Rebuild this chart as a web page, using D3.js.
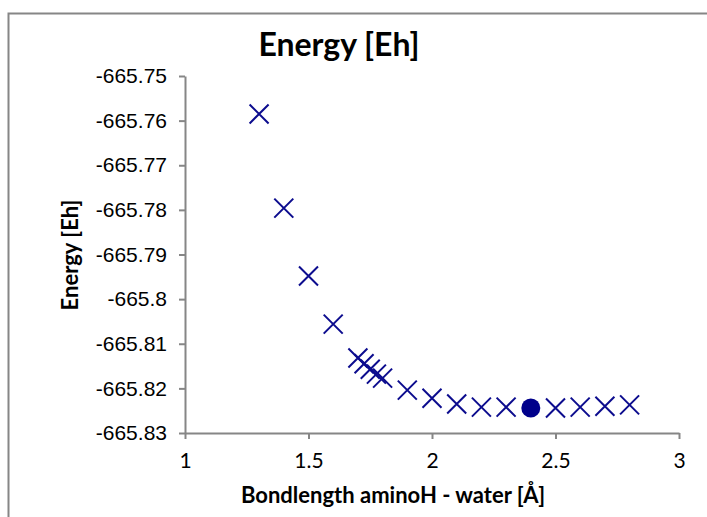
<!DOCTYPE html>
<html><head><meta charset="utf-8">
<script src="https://cdn.jsdelivr.net/npm/d3@7"></script>
<style>body{margin:0;background:#fff}svg{display:block}</style>
</head><body>
<script>
// Data
const bondLength = [1.3, 1.4, 1.5, 1.6, 1.7, 1.725, 1.75, 1.775, 1.8, 1.9, 2.0, 2.1, 2.2, 2.3, 2.5, 2.6, 2.7, 2.8];
const energy = [-665.7585, -665.7796, -665.7948, -665.8056, -665.8132, -665.8145, -665.8157, -665.8168, -665.8177, -665.8204, -665.8222, -665.8235, -665.8242, -665.8242, -665.8244, -665.8242, -665.8240, -665.8237];
const minimumX = [2.4];
const minimumY = [-665.8244];
const xTicks = [1, 1.5, 2, 2.5, 3];
const yTicks = [-665.75, -665.76, -665.77, -665.78, -665.79, -665.80, -665.81, -665.82, -665.83];
const title = "Energy [Eh]";
const xTitle = "Bondlength aminoH - water [Å]";
const yTitle = "Energy [Eh]";

const W = 707, H = 517;
const L = 185, R = 679, T = 76, B = 433;
const axisColor = "#868686", markColor = "#0c0c8e";
const svg = d3.select("body").append("svg").attr("width", W).attr("height", H);

svg.append("rect").attr("x", 8.5).attr("y", 13.5).attr("width", 720).attr("height", 540)
  .attr("fill", "none").attr("stroke", axisColor).attr("stroke-width", 2);

const x = d3.scaleLinear().domain([1, 3]).range([L, R]);
const y = d3.scaleLinear().domain([-665.83, -665.75]).range([B, T]);

const xAxis = svg.append("g").attr("transform", `translate(0,${B})`)
  .call(d3.axisBottom(x).tickValues(xTicks).tickSize(6).tickSizeOuter(0).tickPadding(14)
    .tickFormat(d => String(d)));
xAxis.selectAll("path,line").attr("stroke", axisColor).attr("stroke-width", 2);
xAxis.selectAll("text").attr("font-family", "Lato, sans-serif").attr("font-size", 21).attr("fill", "#000");

const yAxis = svg.append("g").attr("transform", `translate(${L},0)`)
  .call(d3.axisLeft(y).tickValues(yTicks).tickSize(6).tickSizeOuter(0).tickPadding(12)
    .tickFormat(d => String(+d.toFixed(2))));
yAxis.selectAll("path,line").attr("stroke", axisColor).attr("stroke-width", 2);
yAxis.selectAll("text").attr("font-family", "'Liberation Sans', Arial, sans-serif").attr("font-size", 21).attr("fill", "#000");

const pts = bondLength.map((b, i) => ({ b, e: energy[i] }));
const s = 9.5;
const g = svg.append("g");
pts.forEach(p => {
  const cx = x(p.b), cy = y(p.e);
  g.append("path").attr("d", `M${cx - s},${cy - s}L${cx + s},${cy + s}M${cx - s},${cy + s}L${cx + s},${cy - s}`)
    .attr("stroke", markColor).attr("stroke-width", 2).attr("fill", "none");
});
svg.selectAll("circle.min").data(minimumX).enter().append("circle")
  .attr("cx", d => x(d)).attr("cy", (d, i) => y(minimumY[i])).attr("r", 9.5).attr("fill", "#00008b");

svg.append("text").attr("x", 339).attr("y", 56).attr("text-anchor", "middle")
  .attr("font-family", "Lato, sans-serif").attr("font-weight", "bold").attr("font-size", 32).text(title);
svg.append("text").attr("x", 393).attr("y", 503).attr("text-anchor", "middle")
  .attr("font-family", "Lato, sans-serif").attr("font-weight", "bold").attr("font-size", 22).text(xTitle);
svg.append("text").attr("transform", "translate(78,255) rotate(-90)").attr("text-anchor", "middle")
  .attr("font-family", "Lato, sans-serif").attr("font-weight", "bold").attr("font-size", 22).text(yTitle);
</script>
</body></html>
